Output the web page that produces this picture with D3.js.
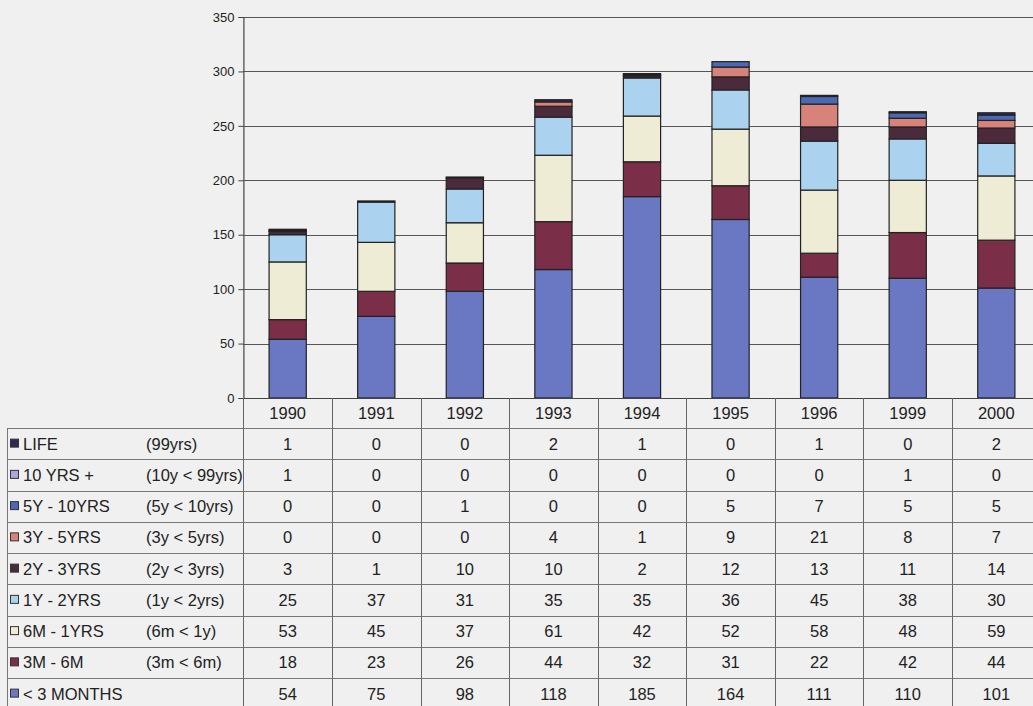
<!DOCTYPE html>
<html>
<head>
<meta charset="utf-8">
<script src="https://cdn.jsdelivr.net/npm/d3@7"></script>
<style>
  html, body { margin: 0; padding: 0; background: #f0f0f0; overflow: hidden; }
  svg { display: block; }
  text { font-family: "Liberation Sans", Arial, sans-serif; fill: #222; }
</style>
</head>
<body>
<svg id="chart" width="1033" height="706"></svg>
<script>
// ---- Data ----
const years = ["1990", "1991", "1992", "1993", "1994", "1995", "1996", "1999", "2000"];
const seriesNames = ["LIFE", "10 YRS +", "5Y - 10YRS", "3Y - 5YRS", "2Y - 3YRS", "1Y - 2YRS", "6M - 1YRS", "3M - 6M", "< 3 MONTHS"];
const seriesNotes = ["(99yrs)", "(10y < 99yrs)", "(5y < 10yrs)", "(3y < 5yrs)", "(2y < 3yrs)", "(1y < 2yrs)", "(6m < 1y)", "(3m < 6m)", ""];
const life      = [1, 0, 0, 2, 1, 0, 1, 0, 2];
const tenPlus   = [1, 0, 0, 0, 0, 0, 0, 1, 0];
const y5to10    = [0, 0, 1, 0, 0, 5, 7, 5, 5];
const y3to5     = [0, 0, 0, 4, 1, 9, 21, 8, 7];
const y2to3     = [3, 1, 10, 10, 2, 12, 13, 11, 14];
const y1to2     = [25, 37, 31, 35, 35, 36, 45, 38, 30];
const m6to1y    = [53, 45, 37, 61, 42, 52, 58, 48, 59];
const m3to6     = [18, 23, 26, 44, 32, 31, 22, 42, 44];
const under3m   = [54, 75, 98, 118, 185, 164, 111, 110, 101];
const yTicks    = [0, 50, 100, 150, 200, 250, 300, 350];
const colors    = ["#2f2a58", "#a9a8d6", "#4b68b2", "#d8837a", "#4b2a3c", "#abd2ee", "#efecd6", "#7b2e48", "#6a77c2"];

const seriesValues = [life, tenPlus, y5to10, y3to5, y2to3, y1to2, m6to1y, m3to6, under3m];

// ---- Layout ----
const svg = d3.select("#chart");
const plotLeft = 243.4, plotRight = 1040.6, plotTop = 17, plotBottom = 398;
const tableLeft = 7, rowH = 31.25, headerBottom = 428;
const fs = 16.5;

const x = d3.scaleBand().domain(years).range([plotLeft, plotRight]).padding(0);
const y = d3.scaleLinear().domain([0, 350]).range([plotBottom, plotTop]);
const barW = x.bandwidth() * 0.42;

// gridlines
svg.append("g").selectAll("line").data(yTicks.filter(d => d > 0)).join("line")
  .attr("x1", plotLeft).attr("x2", 1033)
  .attr("y1", d => Math.round(y(d)) + 0.5).attr("y2", d => Math.round(y(d)) + 0.5)
  .attr("stroke", "#555").attr("stroke-width", 1.2);

// y axis
const yAxis = svg.append("g").attr("transform", `translate(${plotLeft},0)`)
  .call(d3.axisLeft(y).tickValues(yTicks).tickSize(5).tickPadding(4));
yAxis.select(".domain").attr("stroke", "#444").attr("stroke-width", 1.2);
yAxis.selectAll(".tick line").attr("stroke", "#444");
yAxis.selectAll(".tick text").attr("font-size", 13).attr("fill", "#333")
  .attr("font-family", "'Liberation Sans', Arial, sans-serif");

// stacked bars (bottom: < 3 MONTHS ... top: LIFE)
const stackOrder = seriesNames.slice().reverse();
const rows = years.map((yr, i) => {
  const o = { year: yr };
  seriesNames.forEach((s, k) => { o[s] = seriesValues[k][i]; });
  return o;
});
const stacked = d3.stack().keys(stackOrder)(rows);
const colorOf = d3.scaleOrdinal().domain(seriesNames).range(colors);

svg.append("g").selectAll("g").data(stacked).join("g")
  .attr("fill", d => colorOf(d.key))
  .selectAll("rect").data(d => d.filter(p => p[1] - p[0] > 0)).join("rect")
  .attr("x", d => x(d.data.year) + x.bandwidth() / 2 - barW / 2)
  .attr("width", barW)
  .attr("y", d => y(d[1]))
  .attr("height", d => y(d[0]) - y(d[1]))
  .attr("stroke", "#222").attr("stroke-width", 1.2);

// x axis line
svg.append("line").attr("x1", plotLeft).attr("x2", 1033)
  .attr("y1", plotBottom + 0.5).attr("y2", plotBottom + 0.5)
  .attr("stroke", "#444").attr("stroke-width", 1.2);

// ---- Data table ----
const tbl = svg.append("g");
const nRows = seriesNames.length;
const tableBottom = headerBottom + nRows * rowH;

const hLines = d3.range(nRows + 1).map(i => headerBottom + i * rowH);
tbl.selectAll("line.h").data(hLines).join("line")
  .attr("x1", tableLeft).attr("x2", 1033)
  .attr("y1", d => Math.round(d) + 0.5).attr("y2", d => Math.round(d) + 0.5)
  .attr("stroke", "#777").attr("stroke-width", 1);

const vLines = years.map(yr => x(yr)).concat([plotRight]);
tbl.selectAll("line.v").data(vLines).join("line")
  .attr("x1", d => Math.round(d) + 0.5).attr("x2", d => Math.round(d) + 0.5)
  .attr("y1", plotBottom).attr("y2", tableBottom)
  .attr("stroke", "#666").attr("stroke-width", 1);
tbl.append("line").attr("x1", tableLeft + 0.5).attr("x2", tableLeft + 0.5)
  .attr("y1", headerBottom).attr("y2", tableBottom).attr("stroke", "#777");

tbl.selectAll("text.yr").data(years).join("text")
  .attr("x", d => x(d) + x.bandwidth() / 2)
  .attr("y", (plotBottom + headerBottom) / 2 + 6)
  .attr("text-anchor", "middle").attr("font-size", fs).text(d => d);

seriesNames.forEach((s, k) => {
  const cy = headerBottom + k * rowH + rowH / 2;
  tbl.append("rect").attr("x", 10.5).attr("y", cy - 4.5).attr("width", 8).attr("height", 8)
    .attr("fill", colors[k]).attr("stroke", "#333").attr("stroke-width", 1);
  tbl.append("text").attr("x", 23).attr("y", cy + 6).attr("font-size", fs).text(s);
  tbl.append("text").attr("x", 146).attr("y", cy + 6).attr("font-size", fs).text(seriesNotes[k]);
  years.forEach((yr, i) => {
    tbl.append("text").attr("x", x(yr) + x.bandwidth() / 2).attr("y", cy + 6)
      .attr("text-anchor", "middle").attr("font-size", fs).text(seriesValues[k][i]);
  });
});
</script>
</body>
</html>
